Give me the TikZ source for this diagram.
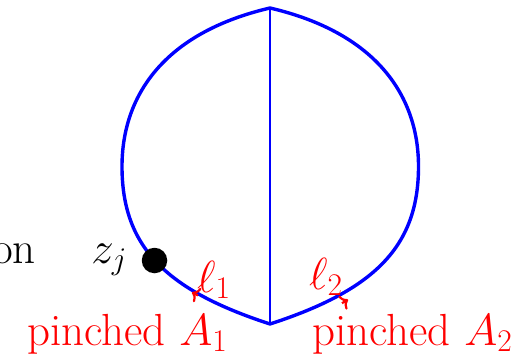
\RequirePackage{fix-cm}
\documentclass[tikz,border=0pt]{standalone}
\usetikzlibrary{arrows.meta}
\begin{document}
\begin{tikzpicture}[x=1pt,y=-1pt,line join=round]
\tikzset{
  arcline/.style={blue,line width=3.4pt},
  midline/.style={blue,line width=2.8pt},
  big/.style={inner sep=0pt,font=\fontsize{45}{52}\selectfont},
  redlbl/.style={big,red},
  tickarrow/.style={red,line width=2.2pt,-{Computer Modern Rightarrow[length=7pt,width=16pt]}},
  dot/.style={circle,fill=black,minimum size=25.5pt,inner sep=0pt}
}
\useasboundingbox (0,0) rectangle (518,353);
\coordinate (T) at (270,8);
\coordinate (B) at (270,324);
\coordinate (L) at (122,166.5);
\coordinate (R) at (418.5,166.5);
\draw[arcline] (T) .. controls (163,33) and (122,96.5) .. (L)
  .. controls (122,246.5) and (165.4,290) .. (B)
  .. controls (374.6,290) and (418.5,246.5) .. (R)
  .. controls (418.5,96.5) and (377,33) .. (T) -- cycle;
\draw[midline] (T) -- (B);
\node[dot] (zdot) at (154.5,260.5) {};
\node[big,anchor=base east] (on) at (36,263) {on};
\node[big,anchor=base east] (zj) at (127,263) {$z_j$};
\coordinate (a1s) at (198,295.5);
\coordinate (a1e) at (192,292.3);
\coordinate (a2s) at (342,303.2);
\coordinate (a2e) at (348,299.6);
\draw[tickarrow] (a1s) -- (a1e);
\draw[tickarrow] (a2s) -- (a2e);
\node[redlbl,anchor=base west] (l1) at (197,292) {$\ell_1$};
\node[redlbl,anchor=base west] (l2) at (309,289) {$\ell_2$};
\node[redlbl,anchor=base west] (p1) at (27,345) {pinched $A_1$};
\node[redlbl,anchor=base west] (p2) at (312,345) {pinched $A_2$};
\end{tikzpicture}
\end{document}
